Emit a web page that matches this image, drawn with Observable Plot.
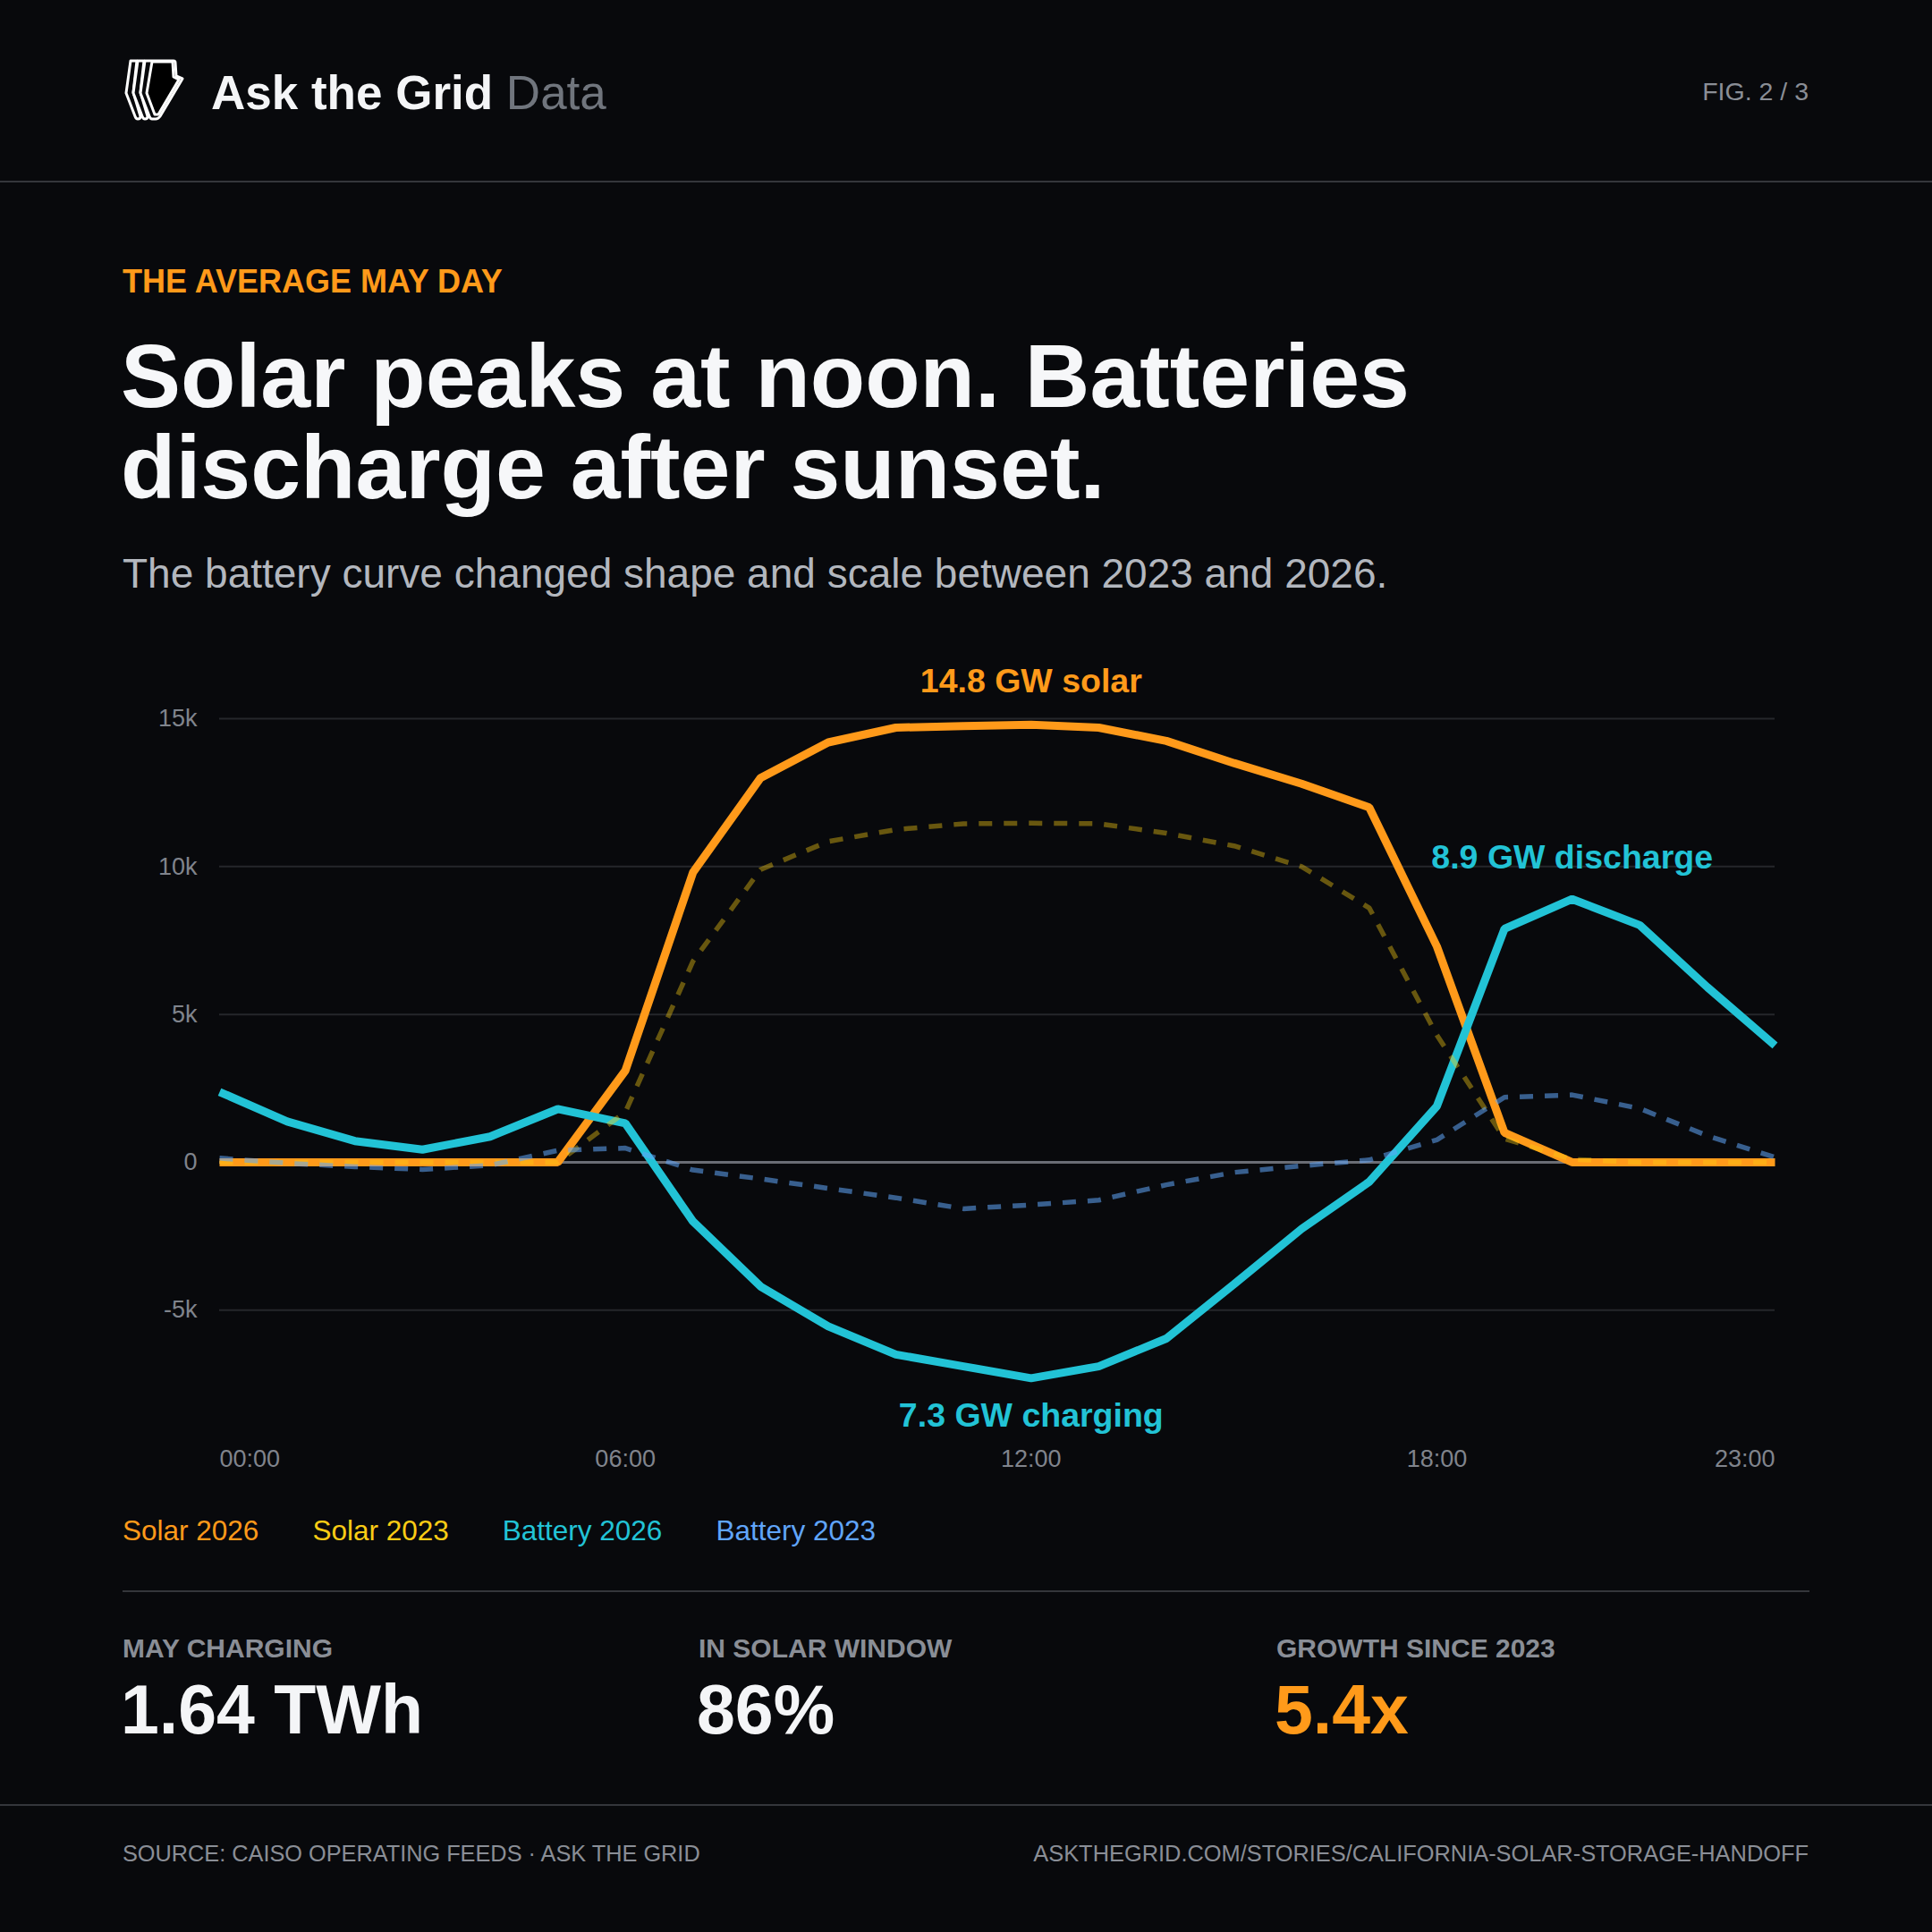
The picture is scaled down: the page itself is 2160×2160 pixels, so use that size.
<!DOCTYPE html>
<html>
<head>
<meta charset="utf-8">
<script src="https://cdn.jsdelivr.net/npm/d3@7"></script>
<script src="https://cdn.jsdelivr.net/npm/@observablehq/plot@0.6"></script>
<style>
  html, body { margin: 0; padding: 0; }
  body { width: 2160px; height: 2160px; background: #08090c; position: relative; overflow: hidden;
         font-family: "Liberation Sans", Arial, Helvetica, sans-serif; color: #f4f5f7; }
  .abs { position: absolute; white-space: nowrap; }
  .rule { position: absolute; height: 2px; background: #34363b; }
</style>
</head>
<body>
<script>
// ---------- data ----------
const hours = [0,1,2,3,4,5,6,7,8,9,10,11,12,13,14,15,16,17,18,19,20,21,22,23];
const hourTicks = [0, 6, 12, 18, 23];
const hourTickLabels = ["00:00", "06:00", "12:00", "18:00", "23:00"];
const yTicks = [-5000, 0, 5000, 10000, 15000];
const yTickLabels = ["-5k", "0", "5k", "10k", "15k"];

const solar2026   = [0,0,0,0,0,0,3100,9800,13000,14200,14700,14750,14800,14700,14250,13500,12800,12000,7300,1000,0,0,0,0];
const solar2023   = [0,0,0,0,0,0,1700,6800,9900,10850,11250,11450,11470,11450,11130,10700,10000,8600,4300,800,100,0,0,0];
const battery2026 = [2380,1380,720,430,870,1800,1320,-2000,-4200,-5550,-6500,-6900,-7300,-6900,-5960,-4120,-2250,-660,1900,7900,8900,8020,5920,3950];
const battery2023 = [140,-30,-150,-240,-100,400,480,-260,-560,-880,-1200,-1570,-1440,-1280,-760,-340,-120,80,760,2200,2280,1820,900,170];

const seriesNames  = ["Solar 2026", "Solar 2023", "Battery 2026", "Battery 2023"];
const seriesColors = ["#ff9a1a", "#facc15", "#22c3d6", "#60a5fa"];

const statLabels = ["MAY CHARGING", "IN SOLAR WINDOW", "GROWTH SINCE 2023"];
const statValues = ["1.64 TWh", "86%", "5.4x"];
const statColors = ["#f4f5f7", "#f4f5f7", "#ff9a1a"];

// ---------- page chrome ----------
function el(tag, css, text) {
  const e = document.createElement(tag);
  e.className = "abs";
  Object.assign(e.style, css);
  if (text != null) e.textContent = text;
  document.body.appendChild(e);
  return e;
}

// logo (outlined bolt with speed stripes)
const NS = "http://www.w3.org/2000/svg";
const logo = document.createElementNS(NS, "svg");
logo.setAttribute("width", "84"); logo.setAttribute("height", "84");
logo.setAttribute("viewBox", "0 0 84 84");
logo.style.position = "absolute"; logo.style.left = "130px"; logo.style.top = "60px";
function addPath(d, fill) {
  const p = document.createElementNS(NS, "path");
  p.setAttribute("d", d);
  p.setAttribute("fill", fill);
  p.setAttribute("stroke", "#ffffff");
  p.setAttribute("stroke-width", "3");
  p.setAttribute("stroke-linejoin", "round");
  p.setAttribute("stroke-linecap", "round");
  logo.appendChild(p);
}
// three finger stripes (back to front)
addPath("M16,8 L23,8 L19,43 L27,70 Q27,73 24,73 Q22,73 21,70 L11,44 Z", "#08090c");
addPath("M24,8 L31,8 L27,43 L35,70 Q35,73 32,73 Q30,73 29,70 L19,44 Z", "#08090c");
addPath("M32,8 L64,8 Q66,8 66,10 L67,25 L74,28 L49,70 Q47,73 44,73 L40,73 Q38,73 37,70 L27,44 Z", "#08090c");
addPath("M40,9 L63,9 L64,26 L70,29 L47,68 L43,68 L34,44 Z", "#000000");
document.body.appendChild(logo);

const brand = el("div", {left: "236px", top: "77px", fontSize: "53px", lineHeight: "53px", fontWeight: "700", color: "#f4f5f7"});
brand.innerHTML = 'Ask the Grid <span style="font-weight:400;color:#70757d">Data</span>';
el("div", {right: "138px", top: "88px", fontSize: "28.5px", lineHeight: "28px", color: "#8a8e96"}, "FIG. 2 / 3");
const r1 = document.createElement("div"); r1.className = "rule"; Object.assign(r1.style, {left: "0px", width: "2160px", top: "202px"}); document.body.appendChild(r1);

el("div", {left: "137px", top: "297px", fontSize: "36px", lineHeight: "35px", fontWeight: "700", color: "#ff9a1a"}, "THE AVERAGE MAY DAY");
const title = el("div", {left: "135px", top: "369px", fontSize: "100.5px", lineHeight: "102px", fontWeight: "700", color: "#f6f7f9", whiteSpace: "normal", width: "1800px"});
title.innerHTML = "Solar peaks at noon. Batteries<br>discharge after sunset.";
el("div", {left: "137px", top: "618px", fontSize: "46px", lineHeight: "46px", color: "#b3b7be"}, "The battery curve changed shape and scale between 2023 and 2026.");

// ---------- chart ----------
const rows = arr => hours.map((h, i) => ({hour: h, value: arr[i]}));
const dS26 = rows(solar2026), dS23 = rows(solar2023), dB26 = rows(battery2026), dB23 = rows(battery2023);

const iMaxSolar = solar2026.indexOf(d3.max(solar2026));
const iMaxBat = battery2026.indexOf(d3.max(battery2026));
const iMinBat = battery2026.indexOf(d3.min(battery2026));
const annSolar = [{hour: hours[iMaxSolar], value: solar2026[iMaxSolar], label: (solar2026[iMaxSolar] / 1000).toFixed(1) + " GW solar"}];
const annDis = [{hour: hours[iMaxBat], value: battery2026[iMaxBat], label: (battery2026[iMaxBat] / 1000).toFixed(1) + " GW discharge"}];
const annChg = [{hour: hours[iMinBat], value: battery2026[iMinBat], label: (Math.abs(battery2026[iMinBat]) / 1000).toFixed(1) + " GW charging"}];

const axisCommon = {tickSize: 0, tickPadding: 40, fill: "#80848c", fontSize: 27, label: null,
                    tickFormat: d => hourTickLabels[hourTicks.indexOf(d)]};

const chart = Plot.plot({
  width: 2160,
  height: 980,
  marginLeft: 245,
  marginRight: 176,
  marginTop: 70,
  marginBottom: 100,
  style: {background: "transparent", color: "#80848c", fontFamily: "Liberation Sans, Arial, sans-serif", overflow: "visible"},
  x: {domain: [0, 23]},
  y: {domain: [-8500, 16000]},
  marks: [
    Plot.gridY(yTicks.filter(v => v !== 0), {stroke: "#25272b", strokeOpacity: 1, strokeWidth: 2}),
    Plot.ruleY([0], {stroke: "#6a6d75", strokeWidth: 3}),
    Plot.axisY(yTicks, {tickSize: 0, tickPadding: 25, fill: "#80848c", fontSize: 27, label: null,
                        tickFormat: d => yTickLabels[yTicks.indexOf(d)]}),
    Plot.axisX(hourTicks.slice(0, 1), {...axisCommon, textAnchor: "start"}),
    Plot.axisX(hourTicks.slice(1, 4), {...axisCommon, textAnchor: "middle"}),
    Plot.axisX(hourTicks.slice(4), {...axisCommon, textAnchor: "end"}),
    Plot.line(dS26, {x: "hour", y: "value", stroke: seriesColors[0], strokeWidth: 9, strokeLinejoin: "miter", strokeLinecap: "butt"}),
    Plot.line(dB26, {x: "hour", y: "value", stroke: seriesColors[2], strokeWidth: 9, strokeLinejoin: "miter", strokeLinecap: "butt"}),
    Plot.line(dS23, {x: "hour", y: "value", stroke: seriesColors[1], strokeOpacity: 0.4, strokeWidth: 5.5, strokeDasharray: "15,13", strokeLinecap: "butt", strokeLinejoin: "miter"}),
    Plot.line(dB23, {x: "hour", y: "value", stroke: seriesColors[3], strokeOpacity: 0.55, strokeWidth: 5.5, strokeDasharray: "15,13", strokeLinecap: "butt", strokeLinejoin: "miter"}),
    Plot.text(annSolar, {x: "hour", y: "value", text: "label", fill: seriesColors[0], fontSize: 37.5, fontWeight: "bold", dy: -48}),
    Plot.text(annDis, {x: "hour", y: "value", text: "label", fill: seriesColors[2], fontSize: 37.5, fontWeight: "bold", dy: -46}),
    Plot.text(annChg, {x: "hour", y: "value", text: "label", fill: seriesColors[2], fontSize: 37.5, fontWeight: "bold", dy: 42})
  ]
});
chart.style.position = "absolute";
chart.style.left = "0px";
chart.style.top = "700px";
document.body.appendChild(chart);

// legend
const legend = el("div", {left: "137px", top: "1696px", fontSize: "31.5px", lineHeight: "31px", display: "flex", gap: "60px"});
seriesNames.forEach((n, i) => {
  const s = document.createElement("span");
  s.textContent = n; s.style.color = seriesColors[i];
  legend.appendChild(s);
});

const r2 = document.createElement("div"); r2.className = "rule"; Object.assign(r2.style, {left: "137px", width: "1886px", top: "1778px"}); document.body.appendChild(r2);

// stats
const statX = [137, 781, 1427];
statLabels.forEach((lab, i) => {
  el("div", {left: statX[i] + "px", top: "1828px", fontSize: "30px", lineHeight: "30px", fontWeight: "700", color: "#8a8e96"}, lab);
  el("div", {left: (statX[i] - 2) + "px", top: "1873px", fontSize: "77px", lineHeight: "77px", fontWeight: "700", color: statColors[i]}, statValues[i]);
});

const r3 = document.createElement("div"); r3.className = "rule"; Object.assign(r3.style, {left: "0px", width: "2160px", top: "2017px"}); document.body.appendChild(r3);

el("div", {left: "137px", top: "2060px", fontSize: "25.3px", lineHeight: "25px", color: "#8a8e96"}, "SOURCE: CAISO OPERATING FEEDS · ASK THE GRID");
el("div", {right: "138px", top: "2060px", fontSize: "25.4px", lineHeight: "25px", color: "#8a8e96"}, "ASKTHEGRID.COM/STORIES/CALIFORNIA-SOLAR-STORAGE-HANDOFF");
</script>
</body>
</html>
